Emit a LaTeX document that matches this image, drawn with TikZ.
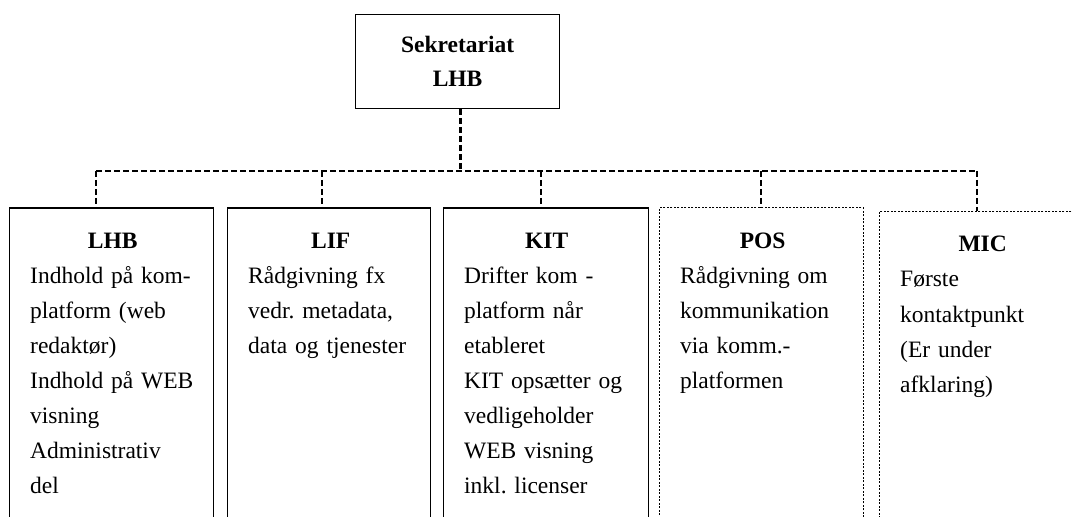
\documentclass[tikz,border=0pt]{standalone}
\usepackage{fontspec}
\setmainfont{Liberation Serif}
\frenchspacing

\begin{document}
\begin{tikzpicture}[x=1bp,y=-1bp]
                    \tikzset{boks/.style={draw, line width=1.2bp, minimum height=340bp, anchor=north west, inner sep=0pt}}
                    \tikzset{stiplet/.style={boks, line width=0.9bp, dash pattern=on 2bp off 1.5bp}}
                    \tikzset{tekst/.style={anchor=base west, inner sep=0pt, text width=165bp, align=left,
                        font=\fontsize{23.5bp}{35bp}\selectfont}}
                    \tikzset{forbindelse/.style={line width=2.6bp, dash pattern=on 6bp off 3bp}}
                    \useasboundingbox (0,0) rectangle (1073,517);
                    % top
                    \node[draw, line width=1.2bp, minimum width=204bp, minimum height=94bp, anchor=north west,
                        align=center, font=\fontsize{23.5bp}{34bp}\selectfont\bfseries] (sekr) at (355,14) {Sekretariat\\LHB};
                    % kasser
                    \node[boks, minimum width=204bp] (lhb) at (9,207.5) {};
                    \node[boks, minimum width=203bp] (lif) at (227,207.5) {};
                    \node[boks, minimum width=205bp] (kit) at (443,207.5) {};
                    \node[stiplet, minimum width=204bp] (pos) at (659,207.5) {};
                    \node[stiplet, minimum width=220bp] (mic) at (879,211) {};
                    % tekster
                    \node[tekst] (lhbtekst) at ([xshift=21bp,yshift=-41bp]lhb.north west)
                        {\centering\textbf{LHB}\par\raggedright Indhold på kom-\\platform (web\\redaktør)\\Indhold på WEB\\visning\\Administrativ\\del};
                    \node[tekst] (liftekst) at ([xshift=21bp,yshift=-41bp]lif.north west)
                        {\centering\textbf{LIF}\par\raggedright Rådgivning fx\\vedr. metadata,\\data og tjenester};
                    \node[tekst] (kittekst) at ([xshift=21bp,yshift=-41bp]kit.north west)
                        {\centering\textbf{KIT}\par\raggedright Drifter kom -\\platform når\\etableret\\KIT opsætter og\\vedligeholder\\WEB visning\\inkl. licenser};
                    \node[tekst] (postekst) at ([xshift=21bp,yshift=-41bp]pos.north west)
                        {\centering\textbf{POS}\par\raggedright Rådgivning om\\kommunikation\\via komm.-\\platformen};
                    \node[tekst] (mictekst) at ([xshift=21bp,yshift=-41bp]mic.north west)
                        {\centering\textbf{MIC}\par\raggedright Første\\kontaktpunkt\\(Er under\\afklaring)};
                    % forbindelser
                    \coordinate (d1) at (96,171);
                    \coordinate (d2) at (322,171);
                    \coordinate (d3) at (541,171);
                    \coordinate (d4) at (761,171);
                    \coordinate (d5) at (977,171);
                    \draw[forbindelse] ([xshift=3bp]sekr.south) -- ([xshift=3bp]sekr.south |- d1);
                    \draw[forbindelse] (d1) -- (d5);
                    \foreach \d/\b in {d1/lhb, d2/lif, d3/kit, d4/pos, d5/mic}
                        \draw[forbindelse] (\d) -- (\d |- \b.north);
                    \end{tikzpicture}
\end{document}
